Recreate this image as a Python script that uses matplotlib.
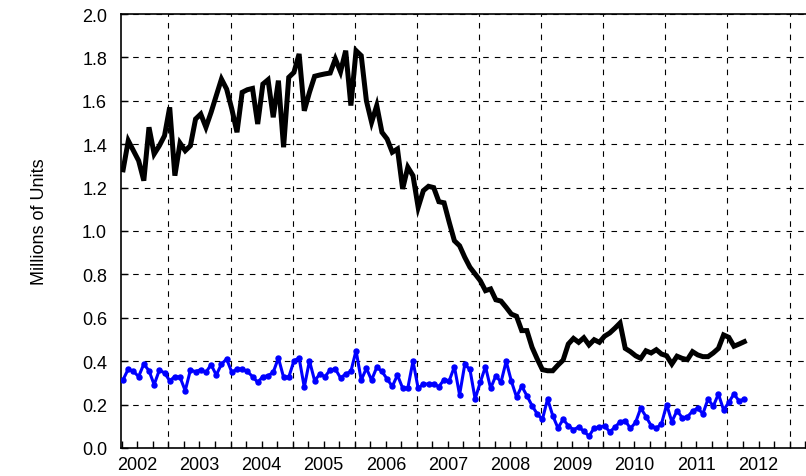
import matplotlib
matplotlib.use("Agg")
import matplotlib.pyplot as plt
from matplotlib.ticker import FixedLocator, FuncFormatter, NullFormatter
import numpy as np

plt.rcParams['font.family'] = ['Liberation Sans', 'DejaVu Sans']

# Monthly series, April 2002 .. April 2012 (millions of units)
start_year = 2002
start_month = 4
single_family = [
    1.282, 1.416, 1.370, 1.324, 1.232, 1.478, 1.355, 1.393, 1.439, 1.570,
    1.255, 1.405, 1.370, 1.393, 1.516, 1.539, 1.478, 1.547, 1.624, 1.700,
    1.654, 1.562, 1.455, 1.639, 1.651, 1.657, 1.493, 1.677, 1.697, 1.524,
    1.693, 1.386, 1.708, 1.731, 1.816, 1.554, 1.639, 1.713, 1.719, 1.724,
    1.728, 1.793, 1.734, 1.831, 1.578, 1.831, 1.808, 1.600, 1.501, 1.578,
    1.455, 1.424, 1.363, 1.378, 1.194, 1.294, 1.255, 1.109, 1.186, 1.206,
    1.200, 1.135, 1.130, 1.040, 0.955, 0.932, 0.879, 0.833, 0.802, 0.771,
    0.725, 0.733, 0.683, 0.677, 0.648, 0.617, 0.607, 0.541, 0.541, 0.464,
    0.410, 0.361, 0.356, 0.356, 0.382, 0.405, 0.479, 0.505, 0.487, 0.508,
    0.475, 0.499, 0.487, 0.515, 0.530, 0.552, 0.576, 0.459, 0.444, 0.425,
    0.413, 0.448, 0.438, 0.453, 0.433, 0.425, 0.387, 0.423, 0.413, 0.407,
    0.444, 0.429, 0.421, 0.421, 0.438, 0.459, 0.521, 0.510, 0.469, 0.479,
    0.490,
]
multi_family = [
    0.315, 0.364, 0.353, 0.329, 0.387, 0.356, 0.292, 0.359, 0.346, 0.310,
    0.329, 0.326, 0.264, 0.359, 0.352, 0.361, 0.349, 0.384, 0.336, 0.387,
    0.410, 0.349, 0.364, 0.364, 0.353, 0.329, 0.303, 0.329, 0.333, 0.349,
    0.415, 0.326, 0.326, 0.402, 0.415, 0.280, 0.402, 0.310, 0.341, 0.329,
    0.360, 0.364, 0.323, 0.341, 0.353, 0.449, 0.313, 0.367, 0.313, 0.372,
    0.353, 0.318, 0.284, 0.336, 0.276, 0.276, 0.400, 0.275, 0.295, 0.295,
    0.295, 0.283, 0.315, 0.310, 0.375, 0.245, 0.385, 0.362, 0.226, 0.303,
    0.375, 0.275, 0.333, 0.303, 0.400, 0.308, 0.235, 0.285, 0.241, 0.195,
    0.157, 0.132, 0.226, 0.149, 0.092, 0.132, 0.103, 0.084, 0.097, 0.077,
    0.055, 0.092, 0.097, 0.102, 0.075, 0.095, 0.121, 0.126, 0.090, 0.118,
    0.184, 0.145, 0.103, 0.091, 0.111, 0.200, 0.121, 0.172, 0.140, 0.143,
    0.170, 0.183, 0.158, 0.226, 0.192, 0.249, 0.175, 0.210, 0.249, 0.216,
    0.226,
]
year_labels = ['2002', '2003', '2004', '2005', '2006', '2007',
               '2008', '2009', '2010', '2011', '2012']
y_label = 'Millions of Units'

n = len(single_family)
months = np.arange(n)
x = start_year + (start_month - 1 + 0.25 + months) / 12.0

W, H = 806, 477
fig = plt.figure(figsize=(W / 100, H / 100), dpi=100)
ax = fig.add_axes([121 / W, 1 - 449 / H, 1 - 121 / W + 0.002, (449 - 15) / H])

ax.plot(x, multi_family, color='#0000ff', lw=2.2, marker='o', ms=3.6,
        zorder=3)
ax.plot(x, single_family, color='black', lw=3.6, zorder=4,
        solid_joinstyle='miter')

ax.set_xlim(2002.237, 2013.29)
ax.set_ylim(0, 2.0)

years = np.arange(2003, 2014)
ax.xaxis.set_major_locator(FixedLocator(years))
ax.xaxis.set_major_formatter(NullFormatter())
quarters = [y + q for y in range(2002, 2014) for q in (0.25, 0.5, 0.75)]
ax.xaxis.set_minor_locator(FixedLocator(quarters))
lab_map = {2002 + i + 0.5: s for i, s in enumerate(year_labels)}
ax.xaxis.set_minor_formatter(FuncFormatter(
    lambda v, p: next((s for k, s in lab_map.items() if abs(k - v) < 1e-6), '')))

ax.set_yticks(np.arange(0, 2.01, 0.2))
ax.yaxis.set_major_formatter(FuncFormatter(lambda v, p: f'{v:.1f}'))

ax.tick_params(axis='x', which='both', direction='in', length=5, width=1,
               labelsize=13, pad=6, colors='black')
ax.tick_params(axis='y', which='both', direction='in', length=5, width=1,
               labelsize=13, pad=10)

ax.grid(True, which='major', color='black', lw=0.8, linestyle=(0, (5, 5.5)))
ax.set_axisbelow(True)

for s in ('left', 'bottom', 'top'):
    ax.spines[s].set_linewidth(1.2)
ax.spines['right'].set_visible(False)

fig.text(40 / W, 1 - 222 / H, y_label, rotation=90, ha='center', va='center',
         fontsize=13)

fig.savefig('out.png', dpi=100)
